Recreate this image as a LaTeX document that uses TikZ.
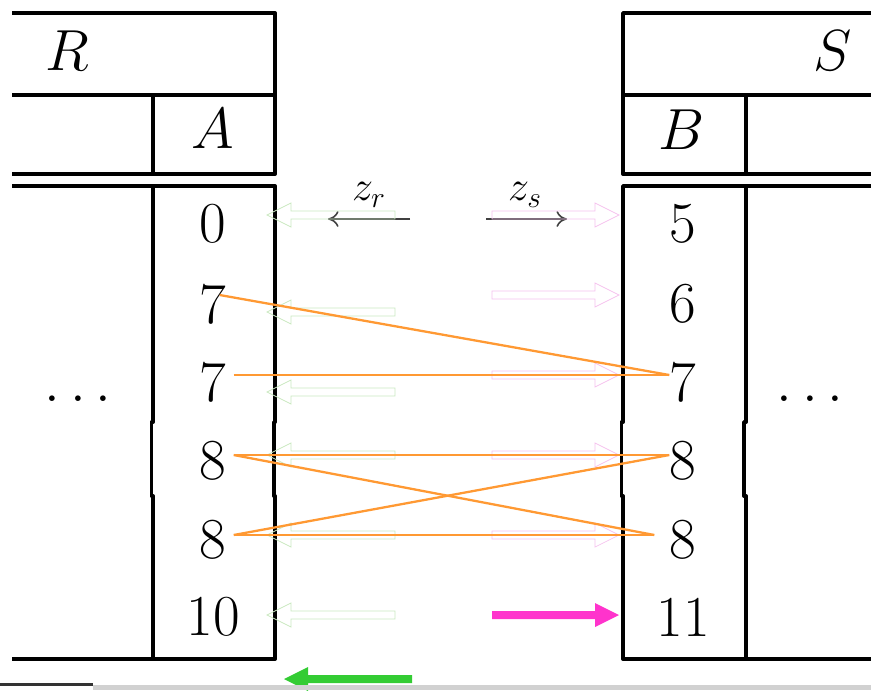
\RequirePackage{fix-cm}
\documentclass[tikz,border=0pt]{standalone}
\usetikzlibrary{arrows.meta}
\definecolor{mergeline}{HTML}{FF9933}
\definecolor{ptrr}{HTML}{C9E8C0}
\definecolor{ptrs}{HTML}{F5C2EE}
\definecolor{curs}{HTML}{FF33CC}
\definecolor{curr}{HTML}{33CC33}
\tikzset{
  tbl/.style={line width=2.2pt, line join=round},
  val/.style={inner sep=0pt, font=\fontsize{33}{40}\selectfont},
  zlab/.style={inner sep=0pt, font=\fontsize{24}{28}\selectfont},
  zarr/.style={black!75, line width=0.9pt, -{Computer Modern Rightarrow[length=6pt,width=9pt]}},
  merge/.style={mergeline, line width=1.3pt},
  hollowr/.style={draw=ptrr, line width=0.4pt},
  hollows/.style={draw=ptrs, line width=0.4pt},
  solidr/.style={fill=curr},
  solids/.style={fill=curs},
  pics/lptr/.style={code={\path[#1] (0,0) -- (24,-12) -- (24,-4) -- (128,-4) -- (128,4) -- (24,4) -- (24,12) -- cycle;}},
  pics/rptr/.style={code={\path[#1] (0,0) -- (-24,-12) -- (-24,-4) -- (-127,-4) -- (-127,4) -- (-24,4) -- (-24,12) -- cycle;}},
}
\begin{document}
\begin{tikzpicture}[x=0.02cm, y=-0.02cm]
\useasboundingbox (0,0) rectangle (871,690);
% relation R
\draw[tbl] (12,13) -- (275,13) -- (275,174) -- (12,174);
\draw[tbl] (12,95) -- (275,95);
\draw[tbl] (153,95) -- (153,174);
\draw[tbl] (12,186) -- (275,186) -- (275,422) -- (274,422) -- (274,496) -- (275,496) -- (275,659) -- (12,659);
\draw[tbl] (153,186) -- (153,422) -- (151.5,422) -- (151.5,496) -- (153,496) -- (153,659);
% relation S
\draw[tbl] (871,13) -- (623,13) -- (623,174) -- (871,174);
\draw[tbl] (623,95) -- (871,95);
\draw[tbl] (746,95) -- (746,174);
\draw[tbl] (871,186) -- (623,186) -- (623,422) -- (621.5,422) -- (621.5,496) -- (623,496) -- (623,659) -- (871,659);
\draw[tbl] (746,186) -- (746,422) -- (744,422) -- (744,496) -- (746,496) -- (746,659);
% headers
\node[val] (relR) at (67,51) {$R$};
\node[val] (relS) at (833,51) {$S$};
\node[val] (attA) at (213,129) {$A$};
\node[val] (attB) at (682,130) {$B$};
% values
\foreach \v/\y [count=\i] in {0/224,7/304,7/382,8/461,8/540,10/617}
  \node[val] (a\i) at (213,\y) {\v};
\foreach \v/\y [count=\i] in {5/224,6/304,7/382,8/461,8/540,11/617}
  \node[val] (b\i) at (683,\y) {\v};
\node[val, anchor=base] (dotsR) at (78,401) {$\ldots$};
\node[val, anchor=base] (dotsS) at (810,401) {$\ldots$};
% scan directions
\node[zlab] (zr) at (369,195) {$z_r$};
\node[zlab] (zs) at (525,195) {$z_s$};
\coordinate (zrt) at (410,219);
\coordinate (zrh) at (328,219);
\coordinate (zst) at (486,219);
\coordinate (zsh) at (567,219);
\draw[zarr] (zrt) -- (zrh);
\draw[zarr] (zst) -- (zsh);
% cursors
\foreach \y in {215,312,392,455,535,615}
  \pic at (267,\y) {lptr=hollowr};
\foreach \y in {215,295,375,455,535}
  \pic at (619,\y) {rptr=hollows};
\pic at (619,615) {rptr=solids};
\pic at (284,679) {lptr=solidr};
% matches
\draw[merge] ([shift={(-7,-9)}]a2.east) -- ([shift={(0,-7)}]b3.west);
\draw[merge] ([shift={(7,-7)}]a3.east) -- ([shift={(0,-7)}]b3.west);
\draw[merge] ([shift={(7,-6)}]a4.east) -- ([shift={(0,-6)}]b4.west);
\draw[merge] ([shift={(7,-6)}]a4.east) -- ([shift={(-15,-5)}]b5.west);
\draw[merge] ([shift={(7,-5)}]a5.east) -- ([shift={(0,-6)}]b4.west);
\draw[merge] ([shift={(7,-5)}]a5.east) -- ([shift={(-15,-5)}]b5.west);
% bottom strip
\fill[black!80] (0,683) rectangle (93,686);
\fill[black!18] (93,685) rectangle (871,690);
\end{tikzpicture}
\end{document}
